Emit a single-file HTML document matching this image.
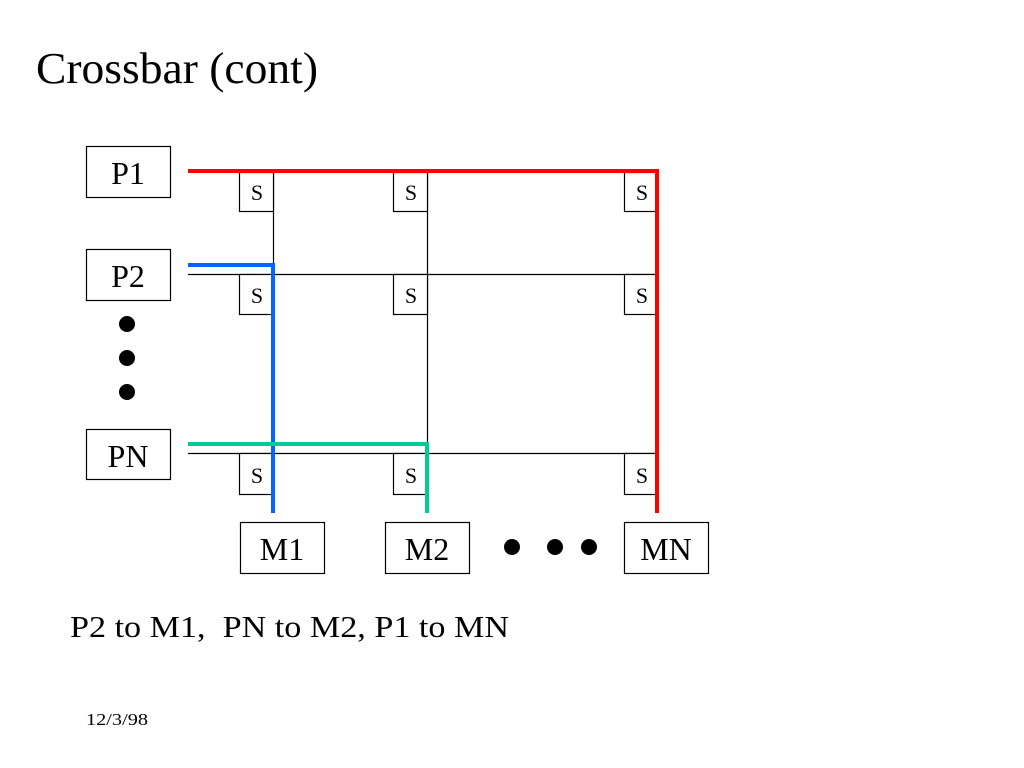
<!DOCTYPE html>
<html><head><meta charset="utf-8"><style>
html,body{margin:0;padding:0;background:#fff;}
svg{display:block;}
text{font-family:"Liberation Serif",serif;fill:#000;}
</style></head><body>
<svg width="1024" height="768" viewBox="0 0 1024 768" xmlns="http://www.w3.org/2000/svg">
<rect width="1024" height="768" fill="#fff"/>
<text x="36" y="83" font-size="44" textLength="282" lengthAdjust="spacingAndGlyphs">Crossbar (cont)</text>

<g stroke="#000" stroke-width="1.2" fill="none">
<line x1="188" y1="171.5" x2="657" y2="171.5"/>
<line x1="188" y1="274.5" x2="657" y2="274.5"/>
<line x1="188" y1="453.5" x2="657" y2="453.5"/>
<line x1="273.5" y1="171" x2="273.5" y2="512"/>
<line x1="427.5" y1="171" x2="427.5" y2="512"/>
<line x1="657.5" y1="171" x2="657.5" y2="512"/>
</g>

<g stroke="#000" stroke-width="1.2" fill="#fff">
<rect x="239.5" y="172.5" width="34" height="39"/>
<rect x="393.5" y="172.5" width="34" height="39"/>
<rect x="624.5" y="172.5" width="33" height="39"/>
<rect x="239.5" y="274.5" width="34" height="40"/>
<rect x="393.5" y="274.5" width="34" height="40"/>
<rect x="624.5" y="274.5" width="33" height="40"/>
<rect x="239.5" y="453.5" width="34" height="41"/>
<rect x="393.5" y="453.5" width="34" height="41"/>
<rect x="624.5" y="453.5" width="33" height="41"/>
</g>
<g font-size="22" text-anchor="middle">
<text x="257" y="200">S</text><text x="411" y="200">S</text><text x="642" y="200">S</text>
<text x="257" y="303">S</text><text x="411" y="303">S</text><text x="642" y="303">S</text>
<text x="257" y="483">S</text><text x="411" y="483">S</text><text x="642" y="483">S</text>
</g>

<polyline points="188,171 657,171 657,513" fill="none" stroke="#ff0000" stroke-width="4"/>
<polyline points="188,265 273,265 273,513" fill="none" stroke="#0066ff" stroke-width="4"/>
<polyline points="188,444 427,444 427,513" fill="none" stroke="#00cc99" stroke-width="4"/>

<g stroke="#000" stroke-width="1.2" fill="#fff">
<rect x="86.5" y="146.5" width="84" height="51"/>
<rect x="86.5" y="249.5" width="84" height="51"/>
<rect x="86.5" y="429.5" width="84" height="50"/>
<rect x="240.5" y="522.5" width="84" height="51"/>
<rect x="385.5" y="522.5" width="84" height="51"/>
<rect x="624.5" y="522.5" width="84" height="51"/>
</g>
<g font-size="32" text-anchor="middle">
<text x="128" y="184">P1</text>
<text x="128" y="287">P2</text>
<text x="128" y="467">PN</text>
<text x="282" y="560">M1</text>
<text x="427" y="560">M2</text>
<text x="666" y="560">MN</text>
</g>

<g fill="#000">
<circle cx="127" cy="324" r="8"/>
<circle cx="127" cy="358" r="8"/>
<circle cx="127" cy="392" r="8"/>
<circle cx="512" cy="547" r="8"/>
<circle cx="555" cy="547" r="8"/>
<circle cx="589" cy="547" r="8"/>
</g>

<text x="70" y="637" font-size="31" xml:space="preserve" textLength="439" lengthAdjust="spacingAndGlyphs">P2 to M1,  PN to M2, P1 to MN</text>
<text x="86" y="725" font-size="17" textLength="62" lengthAdjust="spacingAndGlyphs">12/3/98</text>
</svg>
</body></html>
